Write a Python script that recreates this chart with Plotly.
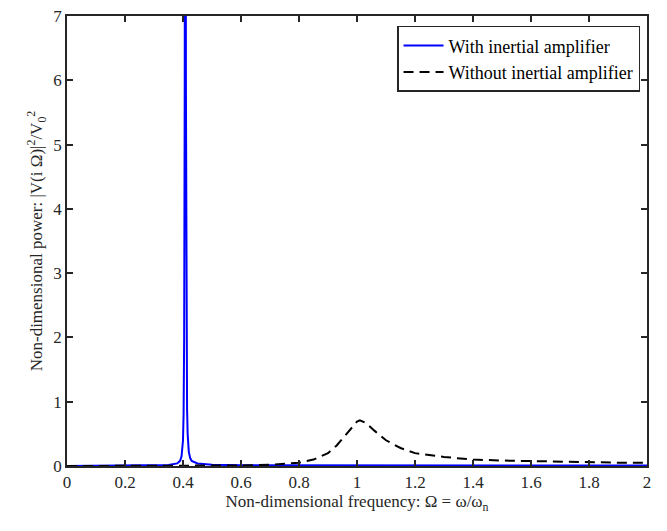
import plotly.graph_objects as go

# With inertial amplifier (blue, sharp resonance near 0.408, clipped above 7)
omega_with = [0, 0.1, 0.2, 0.3, 0.35, 0.38, 0.39, 0.395, 0.4, 0.402, 0.404, 0.406,
              0.407, 0.408, 0.409, 0.410, 0.412, 0.414, 0.416, 0.42, 0.425, 0.43,
              0.45, 0.5, 0.6, 0.8, 1.0, 1.5, 2.0]
power_with = [0, 0.001, 0.003, 0.008, 0.015, 0.04, 0.08, 0.15, 0.4, 0.8, 2.0, 6.0,
              12, 20, 12, 6, 2.0, 0.9, 0.5, 0.22, 0.12, 0.08,
              0.04, 0.02, 0.012, 0.01, 0.012, 0.01, 0.008]

# Without inertial amplifier (black dashed, broad peak near 1.01)
omega_without = [0, 0.2, 0.4, 0.5, 0.6, 0.7, 0.75, 0.8, 0.85, 0.9, 0.93, 0.96,
                 0.98, 1.0, 1.01, 1.03, 1.06, 1.1, 1.15, 1.2, 1.3, 1.4, 1.5,
                 1.6, 1.7, 1.8, 1.9, 2.0]
power_without = [0, 0.0005, 0.002, 0.004, 0.008, 0.018, 0.03, 0.05, 0.1, 0.2, 0.32,
                 0.48, 0.6, 0.69, 0.71, 0.67, 0.55, 0.4, 0.28, 0.2, 0.14, 0.1,
                 0.085, 0.075, 0.065, 0.058, 0.052, 0.048]

x_ticks = [0, 0.2, 0.4, 0.6, 0.8, 1, 1.2, 1.4, 1.6, 1.8, 2]
x_tick_labels = ["0", "0.2", "0.4", "0.6", "0.8", "1", "1.2", "1.4", "1.6", "1.8", "2"]
y_ticks = [0, 1, 2, 3, 4, 5, 6, 7]

FONT = "Liberation Serif"

fig = go.Figure()
fig.add_trace(go.Scatter(x=omega_with, y=power_with, mode="lines",
                         name="With inertial amplifier",
                         line=dict(color="#0000ff", width=2)))
fig.add_trace(go.Scatter(x=omega_without, y=power_without, mode="lines",
                         name="Without inertial amplifier",
                         line=dict(color="#000000", width=2, dash="10px,6px")))

axis_common = dict(showline=True, linecolor="#262626", linewidth=1.5, mirror="ticks",
                   ticks="inside", ticklen=6, tickcolor="#262626", tickwidth=1.5,
                   showgrid=False, zeroline=False, ticklabeloverflow="allow",
                   tickfont=dict(family=FONT, size=17, color="#262626"))

fig.update_xaxes(range=[0, 2], tickvals=x_ticks, ticktext=x_tick_labels,
                 title=dict(text="Non-dimensional frequency: Ω = ω/ω<sub>n</sub>",
                            font=dict(family=FONT, size=17, color="#262626"),
                            standoff=4),
                 **axis_common)
fig.update_yaxes(range=[0, 7], tickvals=y_ticks,
                 title=dict(text="Non-dimensional power: |V(i Ω)|<sup>2</sup>/V<sub>0</sub><sup>2</sup>",
                            font=dict(family=FONT, size=17, color="#262626"),
                            standoff=6),
                 **axis_common)

fig.update_layout(width=667, height=531,
                  margin=dict(l=67, r=20, t=7, b=65),
                  plot_bgcolor="white", paper_bgcolor="white",
                  font=dict(family=FONT, size=17, color="#000000"),
                  legend=dict(x=0.988, y=0.978, xanchor="right", yanchor="top",
                              bgcolor="white", bordercolor="#262626", borderwidth=1.5,
                              font=dict(family=FONT, size=18, color="#000000"),
                              tracegroupgap=0, itemwidth=40))

fig.write_html("out.html")
